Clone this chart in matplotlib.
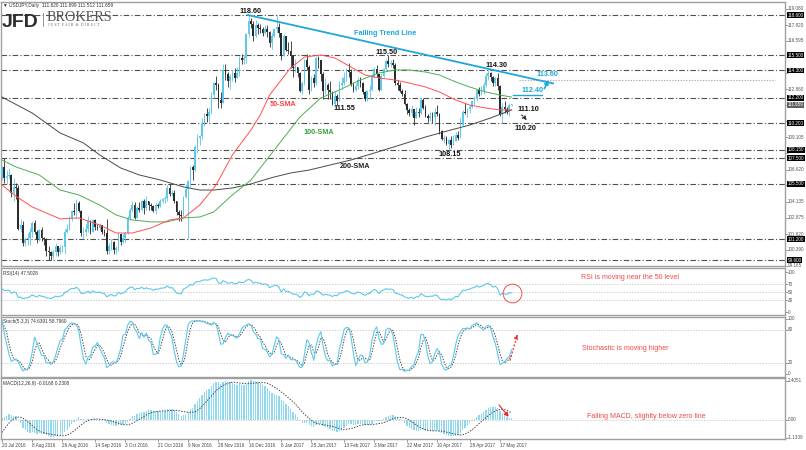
import numpy as np
import pandas as pd
import matplotlib
matplotlib.use("Agg")
import matplotlib.pyplot as plt
from matplotlib.transforms import blended_transform_factory as blend

plt.rcParams['font.family'] = ['Liberation Sans', 'DejaVu Sans']
plt.rcParams['lines.scale_dashes'] = False

## Data: USDJPY daily, 20 Jul 2016 - 24 May 2017
# closes before the first visible bar, only used to warm up the indicators
warm_close = [109.5, 108.9, 106.5, 107.5, 107.3, 106.9, 106.9, 107.0, 106.0, 106.0,
              106.1, 104.2, 104.1, 104.6, 104.8, 104.8, 106.2, 102.2, 101.9, 102.6,
              102.8, 103.2, 102.5, 102.6, 101.9, 101.3, 100.9, 100.5, 102.7, 104.1,
              104.7, 105.7, 104.9, 106.1, 106.1]

close = [106.8, 106.0, 106.1, 106.2, 104.8, 105.3, 105.2, 102.0, 102.3, 100.9,
         101.2, 101.3, 101.8, 102.5, 101.8, 101.2, 101.9, 101.3, 101.2, 100.3,
         100.2, 99.9, 100.2, 100.7, 100.2, 100.5, 100.6, 101.8, 102.0, 102.9,
         103.4, 103.3, 104.0, 103.4, 101.7, 101.8, 102.0, 102.6, 101.8, 102.7,
         102.2, 102.1, 102.3, 101.8, 101.7, 100.3, 100.7, 101.0, 100.4, 100.5,
         101.6, 101.0, 101.3, 101.7, 102.9, 103.5, 103.9, 102.9, 103.6, 103.5,
         104.2, 103.6, 104.2, 103.9, 103.8, 103.4, 103.9, 103.8, 104.2, 104.3,
         104.4, 105.2, 104.7, 104.8, 104.2, 103.3, 103.1, 103.0, 104.5, 105.1,
         105.7, 106.8, 106.6, 108.4, 109.1, 109.2, 110.2, 110.9, 110.8, 111.1,
         112.4, 113.3, 113.2, 112.0, 111.8, 114.3, 114.0, 113.5, 113.9, 114.1,
         113.7, 114.1, 115.3, 115.1, 115.3, 117.1, 118.1, 117.9, 117.0, 117.8,
         117.6, 117.5, 117.2, 117.5, 117.3, 116.4, 117.0, 117.5, 117.7, 117.2,
         115.4, 117.0, 115.9, 115.8, 115.4, 114.5, 114.6, 114.1, 112.7, 113.3,
         115.1, 114.6, 112.8, 113.7, 113.3, 115.3, 115.1, 114.0, 112.7, 113.2,
         112.8, 112.6, 111.7, 112.3, 111.9, 113.2, 113.3, 113.7, 114.3, 114.2,
         113.2, 112.8, 113.1, 113.6, 113.3, 112.6, 112.1, 112.7, 112.8, 113.8,
         114.4, 114.0, 112.8, 113.9, 114.4, 115.0, 114.8, 114.9, 114.7, 113.3,
         113.2, 112.7, 112.5, 111.7, 111.2, 111.0, 111.3, 110.6, 111.1, 111.0,
         112.0, 111.4, 110.8, 110.6, 110.8, 110.7, 111.1, 110.9, 109.6, 109.0,
         109.1, 108.6, 108.9, 108.5, 108.8, 109.3, 109.1, 110.1, 111.1, 111.0,
         111.3, 111.5, 111.9, 112.1, 112.8, 112.5, 112.7, 113.2, 113.9, 114.1,
         113.8, 113.3, 113.7, 113.1, 110.9, 111.5, 111.3, 111.1, 111.62, 111.659]

high = [106.9, 107.5, 106.6, 106.7, 106.3, 106.0, 105.6, 105.4, 102.8, 102.6,
        101.4, 101.7, 102.1, 102.6, 102.7, 101.9, 102.0, 102.2, 101.4, 101.3,
        100.7, 100.3, 100.4, 100.9, 100.7, 100.8, 100.8, 102.0, 102.4, 103.0,
        103.5, 104.0, 104.3, 104.2, 103.5, 102.2, 102.4, 103.0, 102.7, 102.8,
        102.8, 102.4, 102.5, 102.3, 102.0, 102.8, 100.9, 101.2, 101.1, 100.7,
        101.8, 101.6, 101.6, 101.8, 103.0, 103.6, 104.2, 104.1, 103.8, 104.1,
        104.3, 104.3, 104.6, 104.2, 104.0, 103.9, 104.1, 104.0, 104.3, 104.4,
        104.6, 105.4, 105.5, 105.0, 105.0, 104.2, 103.5, 103.5, 104.6, 105.5,
        105.8, 106.9, 107.0, 108.5, 109.4, 109.3, 110.6, 111.0, 111.4, 111.4,
        112.6, 113.4, 113.9, 113.3, 112.6, 114.8, 114.8, 114.2, 114.0, 114.3,
        114.5, 114.6, 115.4, 115.6, 115.5, 117.2, 118.6, 118.4, 118.1, 118.2,
        118.0, 117.9, 117.7, 117.8, 117.8, 117.4, 117.2, 117.6, 118.6, 118.0,
        117.2, 117.1, 117.0, 116.5, 116.6, 115.5, 115.2, 114.6, 114.2, 113.5,
        115.2, 115.6, 114.7, 113.9, 114.0, 115.4, 115.4, 115.1, 114.2, 113.7,
        113.3, 113.5, 112.7, 112.7, 112.5, 113.5, 113.8, 114.2, 114.5, 114.9,
        114.4, 113.4, 113.3, 113.8, 113.8, 113.4, 112.7, 112.8, 113.2, 114.0,
        114.6, 114.7, 114.0, 114.1, 114.5, 115.2, 115.5, 115.1, 115.2, 114.9,
        113.6, 113.4, 112.9, 112.8, 111.8, 111.4, 111.6, 111.3, 111.5, 111.4,
        112.2, 112.2, 111.6, 110.9, 111.1, 111.1, 111.4, 111.6, 111.0, 109.7,
        109.3, 109.2, 109.1, 109.2, 109.3, 109.5, 109.6, 110.6, 111.2, 111.8,
        111.4, 111.6, 112.0, 112.3, 112.9, 113.0, 113.1, 113.4, 114.1, 114.37,
        114.2, 113.9, 113.8, 114.1, 113.2, 111.8, 111.9, 111.5, 111.8, 111.699]

low = [105.8, 105.6, 105.5, 105.9, 104.5, 104.2, 104.3, 101.9, 101.8, 100.7,
       100.7, 100.8, 100.8, 101.4, 101.6, 100.9, 101.1, 101.1, 100.8, 99.9,
       99.6, 99.6, 99.7, 99.9, 99.9, 100.1, 100.2, 100.1, 101.7, 101.9,
       102.6, 103.1, 102.9, 103.3, 101.5, 101.2, 101.5, 101.8, 101.6, 101.9,
       101.9, 101.9, 101.9, 101.6, 101.5, 100.1, 100.1, 100.4, 100.1, 100.1,
       100.3, 100.8, 100.9, 101.0, 101.6, 102.7, 103.3, 102.8, 102.9, 103.3,
       103.4, 103.2, 103.5, 103.5, 103.5, 103.3, 103.2, 103.6, 103.7, 104.0,
       104.0, 104.2, 104.6, 104.6, 104.0, 103.1, 102.6, 102.6, 103.6, 104.4,
       101.2, 105.3, 105.8, 106.5, 107.9, 108.5, 109.0, 110.0, 110.3, 110.3,
       110.9, 112.2, 112.8, 111.4, 111.4, 111.8, 113.6, 113.0, 112.9, 113.5,
       113.4, 113.7, 113.9, 114.8, 114.8, 114.9, 116.9, 117.6, 116.6, 116.9,
       117.1, 117.2, 117.0, 117.1, 116.9, 116.1, 116.0, 116.9, 117.2, 116.9,
       115.1, 115.4, 115.8, 115.6, 114.5, 113.8, 114.2, 113.8, 112.6, 112.5,
       113.2, 114.3, 112.5, 112.7, 113.0, 113.2, 114.5, 113.5, 112.1, 112.5,
       112.1, 112.1, 111.6, 111.55, 111.6, 111.9, 112.9, 113.2, 113.5, 113.8,
       113.1, 112.6, 112.7, 112.9, 113.0, 112.5, 111.9, 111.9, 112.1, 112.7,
       113.7, 113.8, 112.7, 112.8, 113.8, 114.3, 114.6, 114.6, 114.5, 113.2,
       112.8, 112.6, 112.3, 111.6, 110.9, 110.8, 110.8, 110.1, 110.6, 110.7,
       110.9, 111.3, 110.7, 110.3, 110.4, 110.2, 110.1, 110.8, 109.4, 108.9,
       108.7, 108.5, 108.13, 108.3, 108.5, 108.8, 108.9, 109.1, 110.0, 110.9,
       110.7, 111.0, 111.4, 111.6, 111.9, 112.3, 112.4, 112.5, 113.0, 113.6,
       113.5, 113.1, 113.1, 112.8, 110.8, 110.2, 111.0, 110.9, 110.8, 111.512]

# moving averages as drawn on the chart (bar index, price)
sma50_i = [0, 6, 13, 25, 33, 42, 49, 56, 64, 72, 78, 85, 92, 99, 107, 111, 115,
           124, 130, 137, 143, 150, 156, 162, 169, 175, 182, 188, 195, 201, 208, 214, 219]
sma50_v = [105.42, 104.55, 103.72, 102.79, 102.87, 102.32, 101.70, 101.70, 102.09,
           102.71, 102.87, 103.87, 105.42, 107.75, 109.69, 110.85, 112.40, 114.49,
           115.34, 115.50, 115.27, 114.57, 113.95, 113.72, 113.56, 113.33, 113.02,
           112.63, 112.01, 111.62, 111.39, 111.24, 111.24]
sma100_i = [0, 6, 16, 25, 33, 42, 49, 56, 64, 71, 78, 85, 91, 99, 107, 111, 117,
            128, 137, 145, 154, 162, 169, 175, 182, 188, 195, 201, 208, 214, 219]
sma100_v = [107.36, 106.82, 106.20, 105.03, 104.65, 103.87, 103.10, 102.71, 102.56,
            102.56, 102.87, 102.94, 103.33, 104.65, 105.81, 106.74, 108.13, 110.69,
            112.17, 112.79, 113.56, 114.10, 114.34, 114.34, 114.18, 113.95, 113.41,
            113.02, 112.63, 112.40, 112.24]
sma200_i = [0, 13, 25, 35, 42, 51, 59, 68, 78, 85, 91, 99, 107, 111, 117, 124, 132,
            141, 150, 160, 171, 182, 193, 201, 210, 219]
sma200_v = [112.24, 111.00, 109.45, 108.68, 107.75, 106.74, 106.20, 105.81, 105.27,
            105.03, 105.03, 105.19, 105.50, 105.73, 106.04, 106.35, 106.58, 106.97,
            107.36, 107.90, 108.52, 109.14, 109.69, 110.07, 110.62, 111.24]

levels = [118.60, 115.50, 114.30, 112.20, 110.20, 108.15, 107.50, 105.50, 101.20, 99.60]
scale_ticks = [119.080, 117.820, 116.595, 115.350, 114.105, 112.860, 111.620, 110.380,
               109.105, 107.880, 106.620, 105.390, 104.135, 102.875, 101.620, 100.390, 99.165]
last_price = 111.659

date_i = [0, 13, 26, 40, 53, 67, 80, 93, 106, 120, 133, 147, 160, 174, 187, 201, 214]
date_txt = ['20 Jul 2016', '8 Aug 2016', '26 Aug 2016', '14 Sep 2016', '3 Oct 2016',
            '21 Oct 2016', '9 Nov 2016', '28 Nov 2016', '16 Dec 2016', '6 Jan 2017',
            '25 Jan 2017', '13 Feb 2017', '3 Mar 2017', '22 Mar 2017', '10 Apr 2017',
            '28 Apr 2017', '17 May 2017']

## Indicators from the closes (warm-up bars dropped afterwards)
n = len(close)
nw = len(warm_close)
c_all = pd.Series(warm_close + close)
h_all = pd.Series(warm_close + high)
l_all = pd.Series(warm_close + low)

d = c_all.diff()
ag = d.clip(lower=0).ewm(alpha=1/14, adjust=False).mean()
al = (-d.clip(upper=0)).ewm(alpha=1/14, adjust=False).mean()
rsi = (100 - 100/(1 + ag/al)).values[nw:]

ll = l_all.rolling(5).min(); hh = h_all.rolling(5).max()
stk = 100*(c_all-ll).rolling(3).sum()/(hh-ll).rolling(3).sum()
std = stk.rolling(3).mean()
stk = stk.values[nw:]; std = std.values[nw:]

macd = c_all.ewm(span=12, adjust=False).mean() - c_all.ewm(span=26, adjust=False).mean()
sig = macd.rolling(9).mean()
macd = macd.values[nw:]; sig = sig.values[nw:]

## Figure layout (pixel boxes)
W, H = 806, 450
fig = plt.figure(figsize=(W/100, H/100), dpi=100)

def panel(y0, y1):
    return fig.add_axes([1/W, 1-y1/H, 784/W, (y1-y0)/H])

main = panel(2, 266)
rsi_ax = panel(268, 315)
sto_ax = panel(317, 377)
mac_ax = panel(378, 439)

bull = '#5cc8ea'
bear = '#2b2b2b'
xlim = (-0.43, 336.5)
LX = 1.0036   # x of the right scale labels, axes fraction
SFS = 3.3     # right scale font size
for a in (main, rsi_ax, sto_ax, mac_ax):
    a.set_xlim(*xlim)
    for s in a.spines.values():
        s.set_color('#a0a0a0'); s.set_linewidth(1.0)
    a.set_xticks([]); a.yaxis.tick_right()
    a.tick_params(axis='y', length=2, width=0.5, color='#777', labelright=False)

## Main price panel
main.set_ylim(99.14, 119.61)
x = np.arange(n)
c = np.array(close)
o = np.r_[warm_close[-1], c[:-1]]
hi = np.maximum(np.array(high), np.maximum(o, c))
lo = np.minimum(np.array(low), np.minimum(o, c))
up = c >= o
cols = np.where(up, bull, bear)
main.vlines(x, lo, hi, colors=cols, lw=0.6, zorder=3)
main.bar(x, np.maximum(np.abs(c-o), 0.05), bottom=np.minimum(o, c), width=0.72,
         color=cols, linewidth=0, zorder=3)

for lv in levels:
    main.axhline(lv, color='#505050', lw=0.8, dashes=(4, 1.6, 0.8, 1.6), zorder=1)
main.plot([222, 332], [113.6, 113.6], color='#b0b0b0', lw=0.8, ls=(0, (1, 1)), zorder=1)

main.plot(sma200_i, sma200_v, color='#4a4a4a', lw=0.7, zorder=4)
main.plot(sma100_i, sma100_v, color='#4caf50', lw=0.7, zorder=4)
main.plot(sma50_i, sma50_v, color='#ff5050', lw=0.7, zorder=4)
main.plot([105.7, 236.8], [118.6, 113.3], color='#1ea7d8', lw=1.3, zorder=5)

lab = dict(fontsize=5.2, ha='center', va='center', zorder=6)
for t, xi, yv in [('118.60', 106.6, 118.91), ('115.50', 165.4, 115.73),
                  ('114.30', 212.7, 114.72), ('111.55', 147.0, 111.39),
                  ('108.15', 192.5, 107.82), ('111.10', 226.0, 111.24),
                  ('110.20', 224.8, 109.84)]:
    main.text(xi, yv, t, color='#111', fontweight='bold', **lab)
main.text(164.6, 117.2, 'Falling Trend Line', color='#1ea7d8', fontweight='bold', **lab)
main.text(120.8, 111.70, '50-SMA', color='#ff4040', fontweight='bold', **lab)
main.text(136.2, 109.53, '100-SMA', color='#3aa040', fontweight='bold', **lab)
main.text(151.7, 106.82, '200-SMA', color='#222', fontweight='bold', **lab)
main.text(234.6, 113.95, '113.60', color='#1ea7d8', fontweight='bold', **lab)
main.text(227.8, 112.71, '112.40', color='#1ea7d8', fontweight='bold', **lab)
main.plot([219.5, 232], [112.4, 112.4], color='#1ea7d8', lw=1.0, zorder=6)
main.annotate('', xy=(235.5, 113.75), xytext=(232.5, 112.7),
              arrowprops=dict(arrowstyle='-|>', color='#1ea7d8', lw=1.2, mutation_scale=6))
main.annotate('', xy=(226.5, 110.3), xytext=(222.5, 111.0),
              arrowprops=dict(arrowstyle='-|>', color='#222', lw=0.8, ls=':', mutation_scale=6))

tr = blend(main.transAxes, main.transData)
main.set_yticks(scale_ticks)
# grey scale labels that sit under a highlighted level box are hidden, as on the chart
for v in scale_ticks:
    if min(abs(v - b) for b in levels + [last_price]) < 0.4:
        continue
    main.text(LX, v, f'{v:.3f}', transform=tr, fontsize=SFS, color='#555',
              va='center', ha='left', clip_on=False)
for v in levels:
    main.text(LX, v, f'{v:.3f}', transform=tr, fontsize=SFS, color='white',
              va='center', ha='left', clip_on=False,
              bbox=dict(boxstyle='square,pad=0.1', fc='black', ec='none'))
main.text(LX, last_price, f'{last_price:.3f}', transform=tr, fontsize=SFS,
          color='white', va='center', ha='left', clip_on=False,
          bbox=dict(boxstyle='square,pad=0.1', fc='#606060', ec='none'))

## RSI
rsi_ax.set_ylim(-7.5, 110)
for lv in (70, 50, 30):
    rsi_ax.axhline(lv, color='#c8c8c8', lw=0.6, ls=(0, (1, 1)))
rsi_ax.plot(x, rsi, color=bull, lw=0.8)
rsi_ax.plot([219.3], [47.5], 'o', ms=13.5, mfc='none', mec='#f05050', mew=0.7)
rsi_ax.text(270, 86, 'RSI is moving near the 50 level', color='#f04848', fontsize=5,
            ha='center', va='center')

## Stochastic
sto_ax.set_ylim(-5.5, 103.6)
for lv in (80, 20):
    sto_ax.axhline(lv, color='#c8c8c8', lw=0.6, ls=(0, (1, 1)))
sto_ax.plot(x, std, color='#444', lw=0.7, ls=(0, (1, 1)))
sto_ax.plot(x, stk, color=bull, lw=0.8)
sto_ax.annotate('', xy=(221.8, 77), xytext=(218.0, 20),
                arrowprops=dict(arrowstyle='-|>', color='#f02020', lw=0.8, ls=':',
                                mutation_scale=6))
sto_ax.text(268, 46, 'Stochastic is moving higher', color='#f04848', fontsize=5,
            ha='center', va='center')

## MACD
mac_ax.set_ylim(-1.196, 2.59)
mac_ax.axhline(0, color='#c8c8c8', lw=0.6, ls=(0, (1, 1)))
mac_ax.bar(x, macd, width=0.55, color='#8fd9f0', linewidth=0)
mac_ax.plot(x, sig, color='#444', lw=0.7, ls=(0, (1, 1)))
mac_ax.annotate('', xy=(218.5, 0.05), xytext=(212.8, 1.05),
                arrowprops=dict(arrowstyle='-|>', color='#f02020', lw=0.8, mutation_scale=6))
mac_ax.text(277, 0.17, 'Falling MACD, slighlty below zero line', color='#f04848',
            fontsize=5, ha='center', va='center')

for a, ticks, txts in [(rsi_ax, [100, 70, 50, 30, 0], None),
                       (sto_ax, [100, 80, 20, 0], None),
                       (mac_ax, [2.4051, 0.0, -1.1339], ['2.4051', '0.00', '-1.1339'])]:
    a.set_yticks(ticks)
    t2 = blend(a.transAxes, a.transData)
    for k, v in enumerate(ticks):
        s = txts[k] if txts else str(v)
        a.text(LX, v, s, transform=t2, fontsize=SFS, color='#555', va='center',
               ha='left', clip_on=False)

# date axis
mac_ax.set_xticks(date_i)
mac_ax.set_xticklabels(date_txt)
mac_ax.tick_params(axis='x', length=2, width=0.5, color='#777', labelsize=3.3,
                   labelcolor='#444', pad=1)
for t in mac_ax.get_xticklabels():
    t.set_ha('left')

## Panel headers and logo
fig.text(3/W, 1-5/H, '\u25bc USDJPY,Daily  111.620 111.699 111.512 111.659', fontsize=3.4,
         color='#333', va='center', ha='left')
fig.text(3/W, 1-273/H, 'RSI(14) 47.5028', fontsize=3.4, color='#333', va='center')
fig.text(3/W, 1-321/H, 'Stoch(5,3,3) 74.6391 58.7960', fontsize=3.4, color='#333', va='center')
fig.text(3/W, 1-383/H, 'MACD(12,26,9) -0.0168 0.2308', fontsize=3.4, color='#333', va='center')

fig.text(2/W, 1-27/H, 'JFD', fontsize=14, fontweight='bold', color='#2e2e2e',
         va='baseline', ha='left')
fig.add_artist(plt.Line2D([43/W, 43/W], [1-13/H, 1-26/H], color='#888', lw=0.6))
fig.text(47/W, 1-21/H, 'BROKERS', fontsize=10.2, family='Liberation Serif', color='#555',
         va='baseline', ha='left')
fig.text(48/W, 1-26.5/H, 'J U S T  F A I R  &  D I R E C T', fontsize=2.9,
         family='Liberation Serif', color='#666', va='baseline', ha='left')

fig.savefig('out.png', dpi=100, facecolor='white')
